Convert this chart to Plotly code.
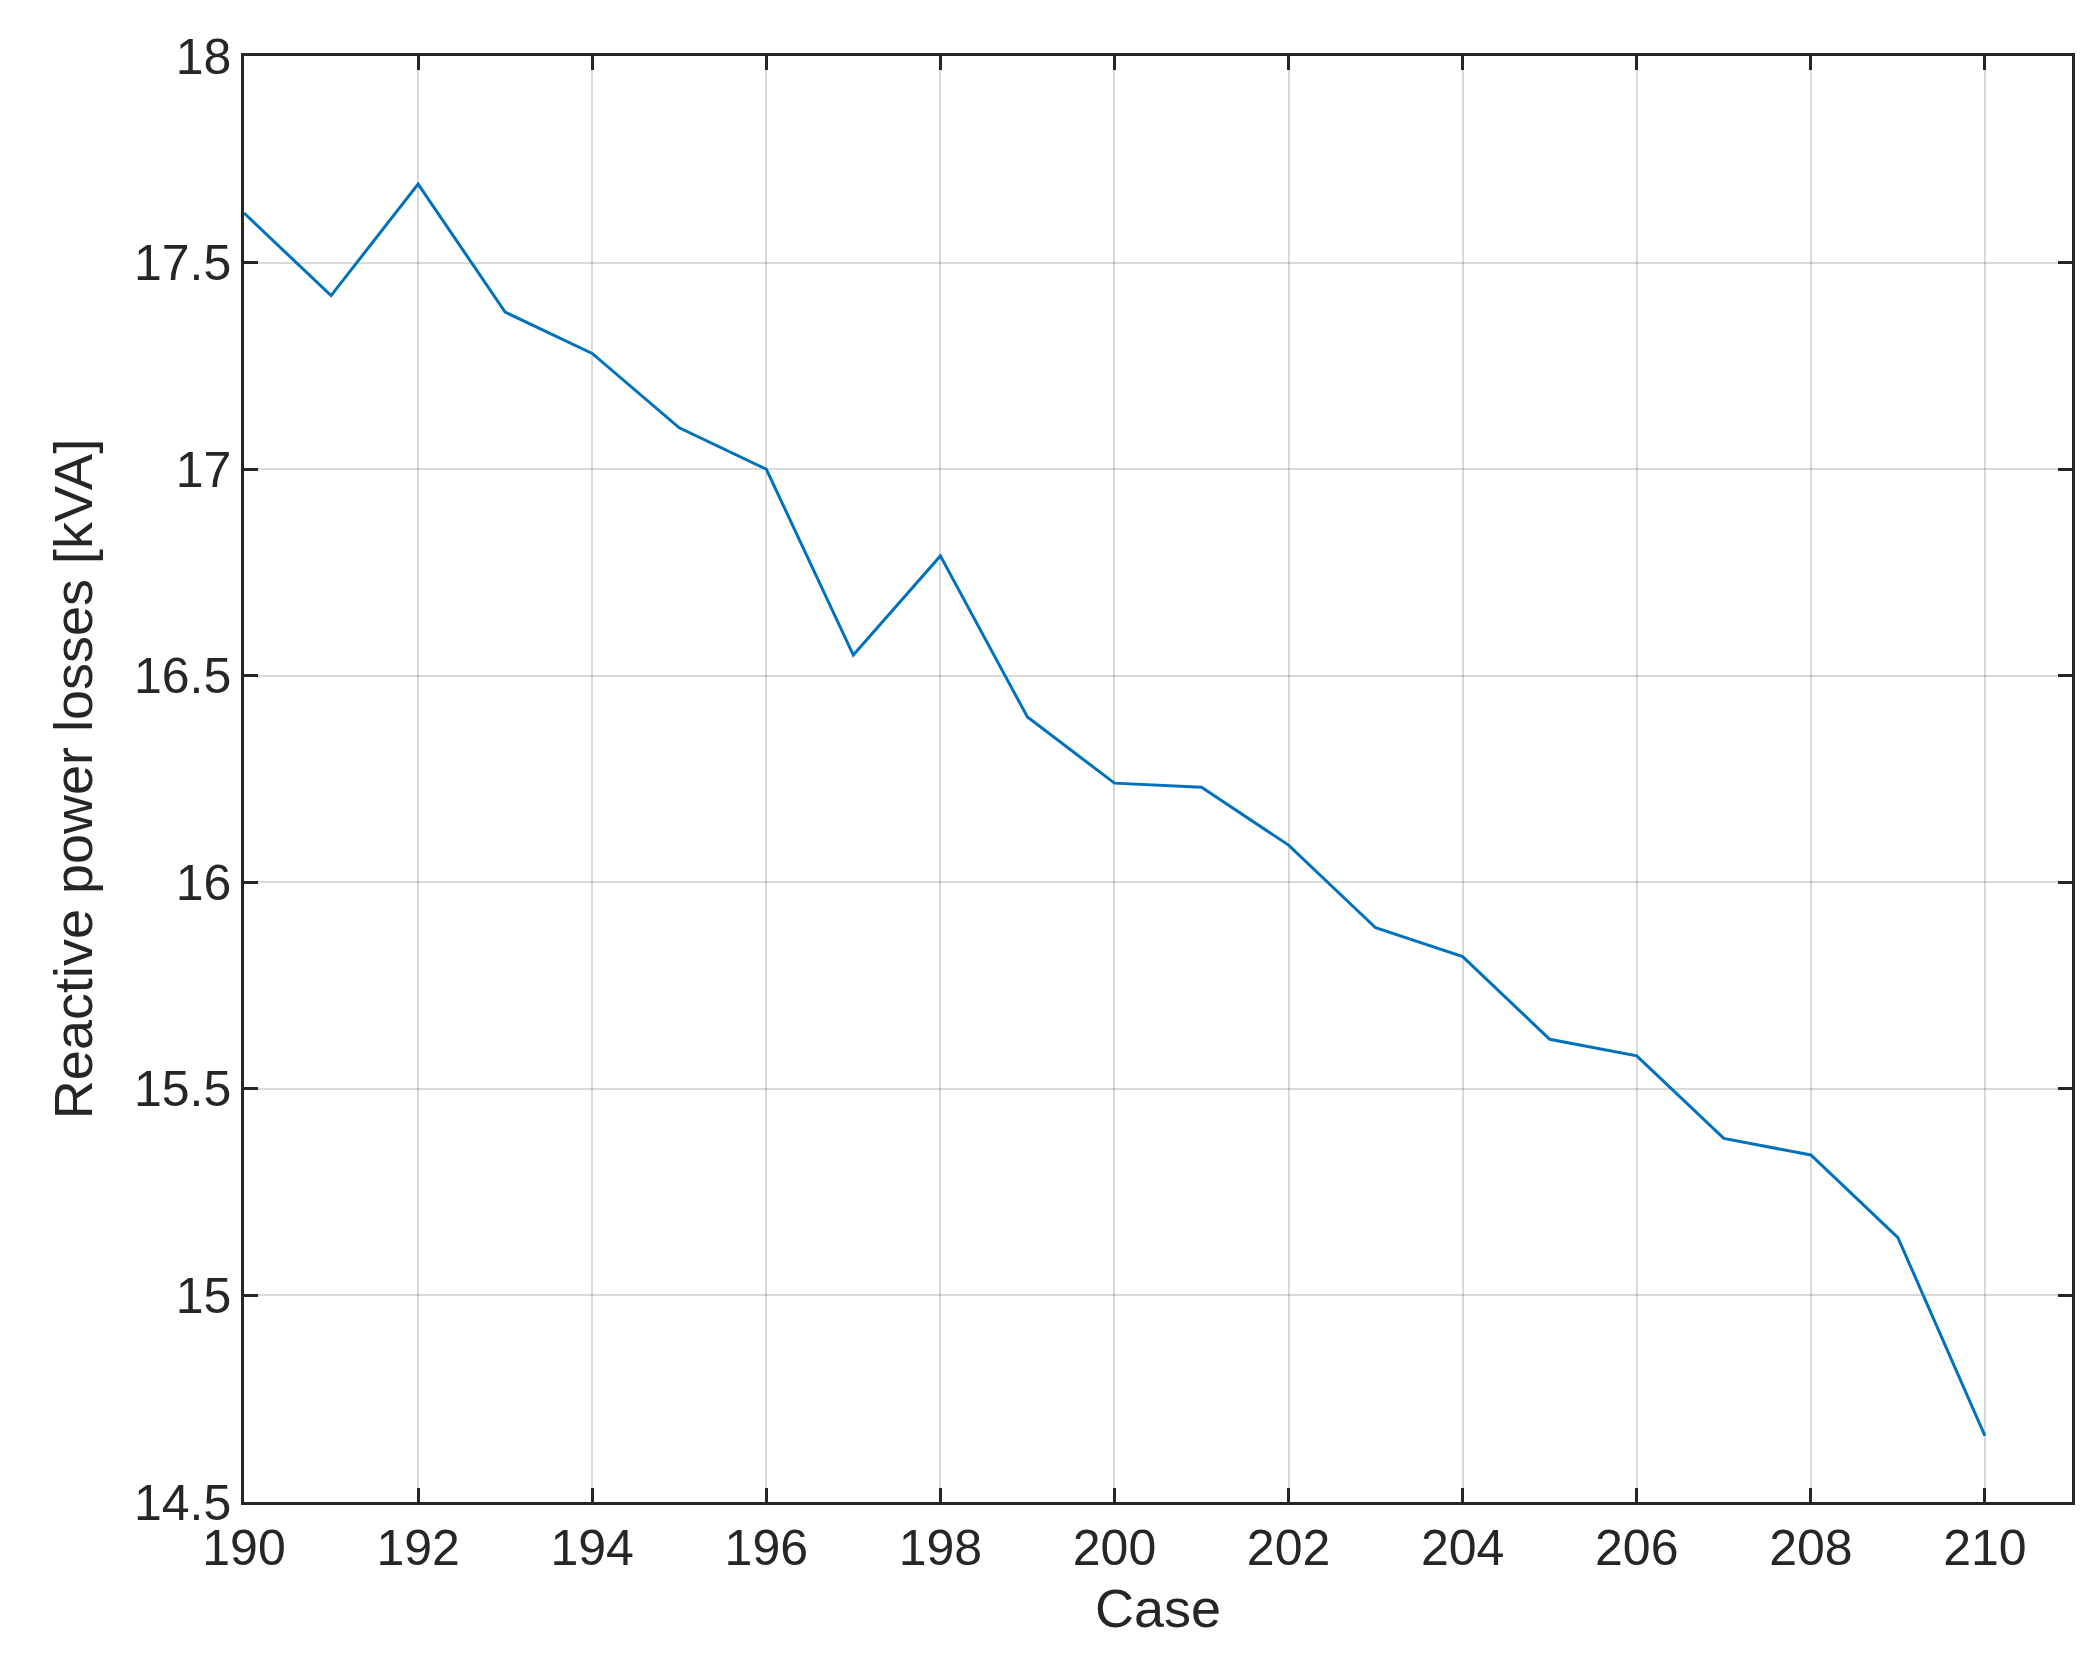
import plotly.graph_objects as go

cases = list(range(190, 211))
losses = [17.62, 17.42, 17.69, 17.38, 17.28, 17.10, 17.00, 16.55, 16.79, 16.40,
          16.24, 16.23, 16.09, 15.89, 15.82, 15.62, 15.58, 15.38, 15.34, 15.14, 14.66]

fig = go.Figure(go.Scatter(x=cases, y=losses, mode="lines",
                           line=dict(color="#0072BD", width=3)))
ax = dict(showline=True, linecolor="#262626", linewidth=2.5, mirror="ticks",
          ticks="inside", ticklen=14, tickwidth=2.5, tickcolor="#262626",
          showgrid=True, gridcolor="rgba(0,0,0,0.15)", gridwidth=2, zeroline=False,
          tickfont=dict(size=50, color="#262626"))
fig.update_xaxes(range=[190, 211], dtick=2, **ax,
                 title=dict(text="Case", font=dict(size=54, color="#262626"), standoff=15))
fig.update_yaxes(range=[14.5, 18], dtick=0.5, **ax,
                 title=dict(text="Reactive power losses [kVA]", font=dict(size=54, color="#262626"), standoff=25))
fig.update_layout(width=2091, height=1680, plot_bgcolor="white", paper_bgcolor="white",
                  font=dict(family="Liberation Sans, Arial"), showlegend=False,
                  margin=dict(l=236, r=27, t=48, b=186))
fig.write_html("out.html")
